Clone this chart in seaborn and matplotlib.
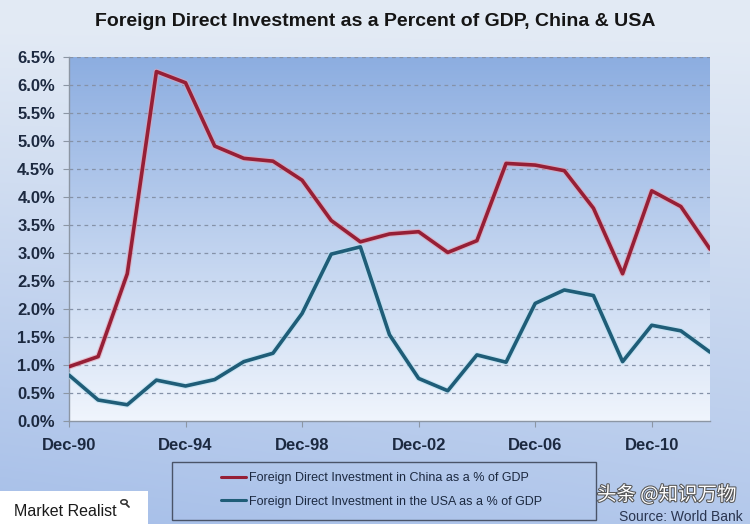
import numpy as np
import pandas as pd
import matplotlib
matplotlib.use("Agg")
import matplotlib.pyplot as plt
import matplotlib.patheffects as pe
from matplotlib.patches import Rectangle, Circle
from matplotlib.lines import Line2D
import seaborn as sns

years = list(range(1990, 2013))
china = [0.97, 1.15, 2.63, 6.24, 6.04, 4.91, 4.69, 4.64, 4.30, 3.58, 3.20, 3.34,
         3.38, 3.01, 3.22, 4.60, 4.57, 4.47, 3.80, 2.63, 4.11, 3.83, 3.07]
usa = [0.82, 0.375, 0.29, 0.73, 0.625, 0.74, 1.06, 1.21, 1.92, 2.98, 3.11, 1.54,
       0.76, 0.54, 1.18, 1.05, 2.10, 2.34, 2.24, 1.06, 1.71, 1.61, 1.23]
series_names = ["Foreign Direct Investment in China as a % of GDP",
                "Foreign Direct Investment in the USA as a % of GDP"]
tick_years = [1990, 1994, 1998, 2002, 2006, 2010]
tick_labels = ["Dec-90", "Dec-94", "Dec-98", "Dec-02", "Dec-06", "Dec-10"]
y_ticks = [i * 0.5 for i in range(14)]
title = "Foreign Direct Investment as a Percent of GDP, China & USA"

df = pd.DataFrame({
    "year": years * 2,
    "value": china + usa,
    "series": [series_names[0]] * len(years) + [series_names[1]] * len(years),
})

sns.set_style("white")
plt.rcParams["font.family"] = ["Liberation Sans", "DejaVu Sans"]

W, H = 750, 524
fig = plt.figure(figsize=(W / 100, H / 100), dpi=100)

# figure background gradient
bg = fig.add_axes([0, 0, 1, 1], zorder=-10)
bg.set_axis_off()
yy = np.linspace(0, 1, 200)[:, None]
xx = np.linspace(0, 1, 200)[None, :]
t = np.clip(0.8 * yy + 0.2 * yy * (1 - xx) - 0.05, 0, 1)
top = np.array([0.89, 0.92, 0.96])
bot = np.array([0.64, 0.74, 0.91])
img = top[None, None, :] * (1 - t[..., None]) + bot[None, None, :] * t[..., None]
bg.imshow(img, extent=[0, 1, 0, 1], aspect="auto")
bg.set_xlim(0, 1)
bg.set_ylim(0, 1)

ax = fig.add_axes([69 / W, (H - 421) / H, (710 - 69) / W, (421 - 57) / H])
palette = {series_names[0]: "#961f36", series_names[1]: "#1f5d78"}
glow = {series_names[0]: "#e8a0b0", series_names[1]: "#b8e0f0"}

# plot gradient background (blue at top, near white at bottom)
g = np.linspace(0, 1, 200)[:, None] * np.ones((1, 10))
ptop = np.array([0.55, 0.68, 0.88])
pbot = np.array([0.94, 0.96, 0.99])
pimg = ptop[None, None, :] * (1 - g[..., None]) + pbot[None, None, :] * g[..., None]
ax.imshow(pimg, extent=[1990, 2012, 0, 6.5], aspect="auto", origin="upper", zorder=0)

sns.lineplot(data=df, x="year", y="value", hue="series", palette=palette,
             linewidth=2.6, ax=ax, legend=False, zorder=3)
for line, name in zip(ax.get_lines(), series_names):
    line.set_path_effects([pe.Stroke(linewidth=4.2, foreground=glow[name], alpha=0.6), pe.Normal()])

ax.set_xlim(1990, 2012)
ax.set_ylim(0, 6.5)
ax.set_yticks(y_ticks)
ax.set_yticklabels([f"{v:.1f}%" for v in y_ticks])
ax.set_xticks(tick_years)
ax.set_xticklabels(tick_labels)
ax.set_xlabel("")
ax.set_ylabel("")
for v in y_ticks[1:]:
    ax.axhline(v, color="#8592a8", linestyle=(0, (3, 3)), linewidth=0.9, zorder=1)
for s in ["top", "right"]:
    ax.spines[s].set_visible(False)
for s in ["left", "bottom"]:
    ax.spines[s].set_color("#8c96a4")
    ax.spines[s].set_linewidth(1.0)
ax.tick_params(axis="x", length=4, color="#8c96a4", pad=8, labelsize=12, labelcolor="#1c2940")
ax.tick_params(axis="y", length=4, color="#8c96a4", pad=6, labelsize=12, labelcolor="#1c2940")
ax.tick_params(axis="both", which="both", direction="out", bottom=True, left=True)
for lbl in ax.get_xticklabels() + ax.get_yticklabels():
    lbl.set_fontweight("bold")

fig.text(0.5, 1 - 22 / H, title, ha="center", va="center", fontsize=14,
         fontweight="bold", color="#151515")

# legend box
fig.add_artist(Rectangle((172 / W, (H - 520) / H), (596 - 172) / W, (520 - 462) / H,
                         transform=fig.transFigure, facecolor="none",
                         edgecolor="#4a5468", linewidth=1.0))
handles = [Line2D([], [], color=palette[n], linewidth=2.2) for n in series_names]
fig.legend(handles, series_names, loc="center left",
           bbox_to_anchor=(210 / W, (H - 490) / H), frameon=False,
           fontsize=9, handlelength=2.0, handletextpad=0.2, labelspacing=0.9,
           labelcolor="#1c2940")

# Market Realist logo box
fig.add_artist(Rectangle((0, 0), 148 / W, (H - 491) / H, transform=fig.transFigure,
                         facecolor="white", edgecolor="none"))
fig.text(14 / W, 1 - 511 / H, "Market Realist", ha="left", va="center", fontsize=11.5,
         color="#1a1a1a")
# magnifier mark
fig.add_artist(Circle((124 / W, 1 - 502 / H), 3.2 / W, transform=fig.transFigure,
                      facecolor="none", edgecolor="#333333", linewidth=1.1))
fig.add_artist(Line2D([126.3 / W, 129 / W], [1 - 504.3 / H, 1 - 507 / H],
                      transform=fig.transFigure, color="#333333", linewidth=1.3))

fig.text(743 / W, 1 - 517 / H, "Source: World Bank", ha="right", va="center",
         fontsize=10, color="#2a3550")
wm = fig.text(597 / W, 1 - 495 / H, "头条 @知识万物", ha="left", va="center", fontsize=14,
              color="white", family=["Noto Sans CJK SC", "DejaVu Sans"])
wm.set_path_effects([pe.withStroke(linewidth=1.5, foreground="#555555")])

fig.savefig("out.png", dpi=100)
